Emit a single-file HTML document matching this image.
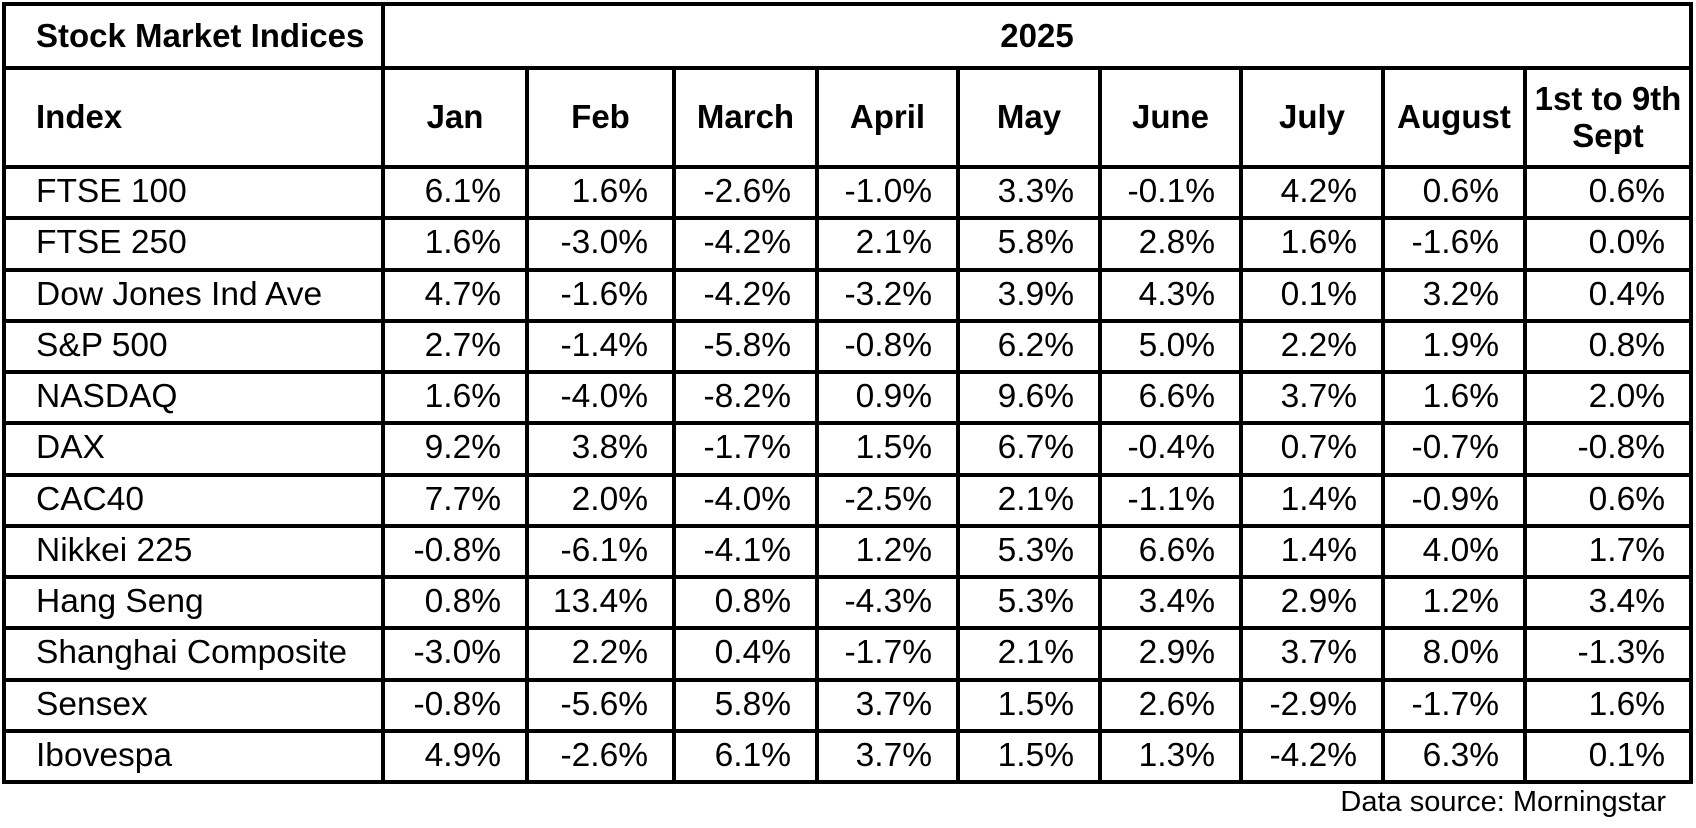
<!DOCTYPE html>
<html><head><meta charset="utf-8"><style>
html,body{margin:0;padding:0;background:#fff;}
#wrap{position:relative;width:1696px;height:828px;overflow:hidden;font-family:"Liberation Sans",Arial,sans-serif;color:#000;}
.ln{position:absolute;background:#000;}
.c{position:absolute;display:flex;align-items:center;font-size:33.5px;box-sizing:border-box;line-height:1.1;}
.b{font-weight:bold;font-size:33px;}
</style></head><body>
<div id="wrap"></div>
<script>
const months = ["Jan","Feb","March","April","May","June","July","August","1st to 9th<br>Sept"];
const indices = ["FTSE 100","FTSE 250","Dow Jones Ind Ave","S&P 500","NASDAQ","DAX","CAC40","Nikkei 225","Hang Seng","Shanghai Composite","Sensex","Ibovespa"];
const values = [
["6.1%","1.6%","-2.6%","-1.0%","3.3%","-0.1%","4.2%","0.6%","0.6%"],
["1.6%","-3.0%","-4.2%","2.1%","5.8%","2.8%","1.6%","-1.6%","0.0%"],
["4.7%","-1.6%","-4.2%","-3.2%","3.9%","4.3%","0.1%","3.2%","0.4%"],
["2.7%","-1.4%","-5.8%","-0.8%","6.2%","5.0%","2.2%","1.9%","0.8%"],
["1.6%","-4.0%","-8.2%","0.9%","9.6%","6.6%","3.7%","1.6%","2.0%"],
["9.2%","3.8%","-1.7%","1.5%","6.7%","-0.4%","0.7%","-0.7%","-0.8%"],
["7.7%","2.0%","-4.0%","-2.5%","2.1%","-1.1%","1.4%","-0.9%","0.6%"],
["-0.8%","-6.1%","-4.1%","1.2%","5.3%","6.6%","1.4%","4.0%","1.7%"],
["0.8%","13.4%","0.8%","-4.3%","5.3%","3.4%","2.9%","1.2%","3.4%"],
["-3.0%","2.2%","0.4%","-1.7%","2.1%","2.9%","3.7%","8.0%","-1.3%"],
["-0.8%","-5.6%","5.8%","3.7%","1.5%","2.6%","-2.9%","-1.7%","1.6%"],
["4.9%","-2.6%","6.1%","3.7%","1.5%","1.3%","-4.2%","6.3%","0.1%"]
];
const W = document.getElementById('wrap');
const colX = [4,383,527,674,817,958,1100,1241,1383,1525,1691];
const rowY = [4,68,167];
for (let i=1;i<=12;i++) rowY.push(167+51.25*i);
const T = 4;
function line(x,y,w,h,name){
  const d=document.createElement('div');d.className='ln';
  d.style.left=x+'px';d.style.top=y+'px';d.style.width=w+'px';d.style.height=h+'px';
  
  
  W.appendChild(d);
}
function cell(x1,x2,y1,y2,html,align,bold,name){
  const d=document.createElement('div');d.className='c'+(bold?' b':'');
  d.style.left=(x1+T/2)+'px';d.style.top=(y1+T/2)+'px';
  d.style.width=(x2-x1-T)+'px';d.style.height=(y2-y1-T)+'px';
  if(align==='l'){d.style.justifyContent='flex-start';d.style.paddingLeft='30px';}
  else if(align==='r'){d.style.justifyContent='flex-end';d.style.paddingRight='24px';}
  else {d.style.justifyContent='center';d.style.textAlign='center';}
  d.innerHTML=html;
  
  
  W.appendChild(d);
}
for (let i=0;i<rowY.length;i++) line(colX[0]-T/2,rowY[i]-T/2,colX[10]-colX[0]+T,T,'row-border');
line(colX[0]-T/2,rowY[0]-T/2,T,rowY[14]-rowY[0]+T,'col-border');
line(colX[1]-T/2,rowY[0]-T/2,T,rowY[14]-rowY[0]+T,'col-border');
line(colX[10]-T/2,rowY[0]-T/2,T,rowY[14]-rowY[0]+T,'col-border');
for (let j=2;j<10;j++) line(colX[j]-T/2,rowY[1]-T/2,T,rowY[14]-rowY[1]+T,'col-border');
cell(colX[0],colX[1],rowY[0],rowY[1],'Stock Market Indices','l',true,'table-title');
cell(colX[1],colX[10],rowY[0],rowY[1],'2025','c',true,'year-header');
cell(colX[0],colX[1],rowY[1],rowY[2],'Index','l',true,'index-header');
for (let j=0;j<months.length;j++) cell(colX[j+1],colX[j+2],rowY[1],rowY[2],months[j],'c',true,'month-header');
for (let i=0;i<indices.length;i++){
  cell(colX[0],colX[1],rowY[i+2],rowY[i+3],indices[i].replace('&','&amp;'),'l',false,'index-name');
  for (let j=0;j<9;j++) cell(colX[j+1],colX[j+2],rowY[i+2],rowY[i+3],values[i][j],'r',false,'value-cell');
}
const s=document.createElement('div');
s.textContent='Data source: Morningstar';
s.style.cssText='position:absolute;right:30px;top:786px;font-size:29px;';


W.appendChild(s);
</script>
</body></html>
